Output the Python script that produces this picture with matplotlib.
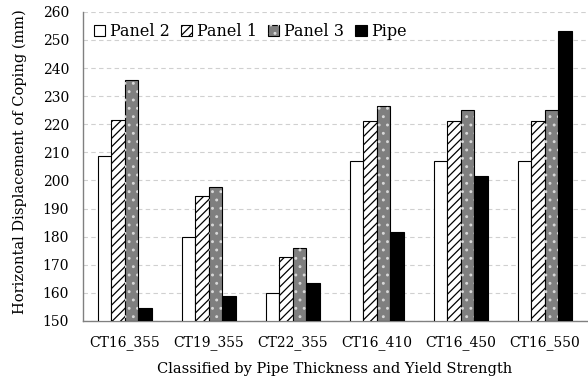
import matplotlib
matplotlib.use("Agg")
import matplotlib.pyplot as plt
from matplotlib.legend_handler import HandlerTuple
import numpy as np

plt.rcParams['font.family'] = ['DejaVu Serif']
plt.rcParams['hatch.linewidth'] = 0.9

categories = ['CT16_355', 'CT19_355', 'CT22_355', 'CT16_410', 'CT16_450', 'CT16_550']
panel2 = [208.7, 179.8, 160.1, 206.9, 206.9, 206.9]
panel1 = [221.4, 194.3, 172.7, 221.2, 221.2, 221.2]
panel3 = [235.7, 197.8, 176.1, 226.5, 224.9, 224.9]
pipe = [154.5, 158.9, 163.6, 181.6, 201.4, 253.3]

fig = plt.figure(figsize=(5.88, 3.82), dpi=100)
ax = fig.add_axes([0.141, 0.160, 0.857, 0.809])

x = np.arange(len(categories))
w = 0.16
base = 150

b2 = ax.bar(x - 1.5 * w, np.array(panel2) - base, w, bottom=base, color='white',
            edgecolor='black', linewidth=0.8, zorder=3)
b1 = ax.bar(x - 0.5 * w, np.array(panel1) - base, w, bottom=base, color='white',
            edgecolor='black', hatch='////', linewidth=0.8, zorder=3)
b3 = ax.bar(x + 0.5 * w, np.array(panel3) - base, w, bottom=base, color='#7f7f7f',
            edgecolor='black', linewidth=0.8, zorder=3)
b3h = ax.bar(x + 0.5 * w, np.array(panel3) - base, w, bottom=base, color='none',
             edgecolor='#d8d8d8', hatch='..', linewidth=0, zorder=4)
b4 = ax.bar(x + 1.5 * w, np.array(pipe) - base, w, bottom=base, color='black',
            edgecolor='black', linewidth=0.8, zorder=3)

ax.set_ylim(150, 260)
ax.set_yticks(np.arange(150, 261, 10))
ax.set_xlim(-0.5, len(categories) - 0.5)
ax.set_xticks(x)
ax.set_xticklabels(categories)
ax.tick_params(axis='both', length=0, labelsize=10)
ax.tick_params(axis='x', pad=10)
ax.tick_params(axis='y', pad=10)
ax.yaxis.grid(True, linestyle=(0, (4, 3)), color='#d0d0d0', linewidth=0.8, zorder=0)
ax.set_axisbelow(True)
for s in ['top', 'right']:
    ax.spines[s].set_visible(False)
for s in ['left', 'bottom']:
    ax.spines[s].set_color('#808080')
    ax.spines[s].set_linewidth(1.0)

ax.set_xlabel('Classified by Pipe Thickness and Yield Strength', fontsize=10.5, labelpad=9)
ax.set_ylabel('Horizontal Displacement of Coping (mm)', fontsize=10.5)
ax.yaxis.set_label_coords(-0.111, 0.515)

ax.legend([b2, b1, (b3, b3h), b4], ['Panel 2', 'Panel 1', 'Panel 3', 'Pipe'],
          handler_map={tuple: HandlerTuple(ndivide=1, pad=0)},
          loc='upper left', bbox_to_anchor=(0.0, 1.0), ncol=4, frameon=False,
          fontsize=11.5, handlelength=0.7, handleheight=0.7, handletextpad=0.3,
          columnspacing=0.7, borderaxespad=0.3)

fig.savefig('out.png', dpi=100)
